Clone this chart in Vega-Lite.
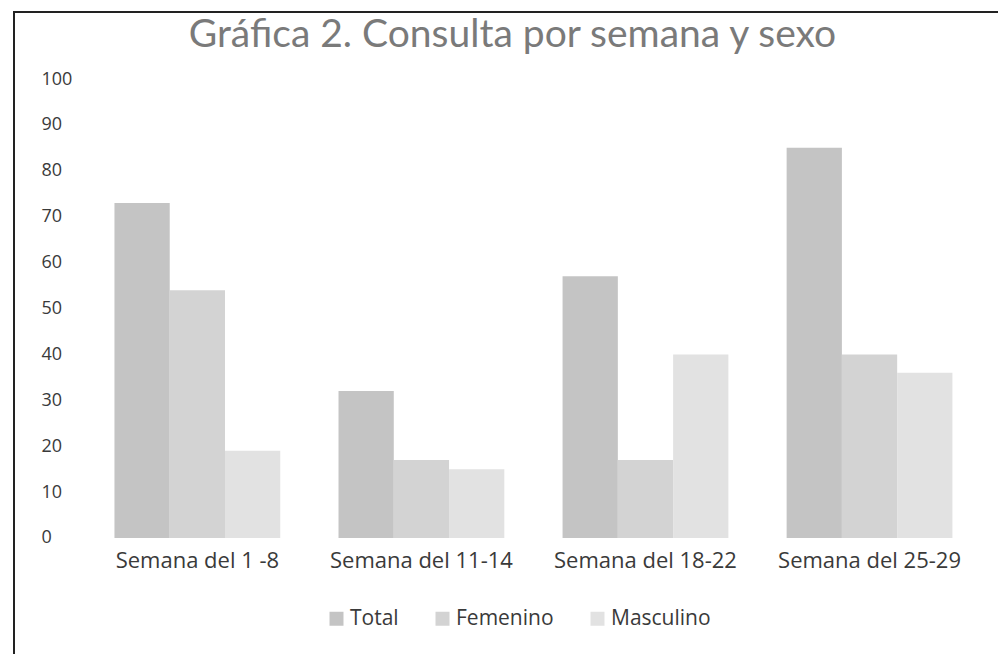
{
  "$schema": "https://vega.github.io/schema/vega-lite/v6.json",
  "autosize": "none",
  "padding": {"left": 14, "top": 12, "right": 0, "bottom": 0},
  "width": 1000,
  "height": 649,
  "background": "white",
  "config": {
    "view": {"stroke": "#222222", "strokeWidth": 2},
    "axis": {"grid": false, "domain": false, "ticks": false, "labelFont": "Open Sans", "labelColor": "#3a3a3a"}
  },
  "data": {
    "values": [
      {"semana": "Semana del 1 -8", "sexo": "Total", "valor": 73},
      {"semana": "Semana del 1 -8", "sexo": "Femenino", "valor": 54},
      {"semana": "Semana del 1 -8", "sexo": "Masculino", "valor": 19},
      {"semana": "Semana del 11-14", "sexo": "Total", "valor": 32},
      {"semana": "Semana del 11-14", "sexo": "Femenino", "valor": 17},
      {"semana": "Semana del 11-14", "sexo": "Masculino", "valor": 15},
      {"semana": "Semana del 18-22", "sexo": "Total", "valor": 57},
      {"semana": "Semana del 18-22", "sexo": "Femenino", "valor": 17},
      {"semana": "Semana del 18-22", "sexo": "Masculino", "valor": 40},
      {"semana": "Semana del 25-29", "sexo": "Total", "valor": 85},
      {"semana": "Semana del 25-29", "sexo": "Femenino", "valor": 40},
      {"semana": "Semana del 25-29", "sexo": "Masculino", "valor": 36}
    ]
  },
  "mark": {"type": "bar"},
  "encoding": {
    "x": {
      "field": "semana",
      "type": "nominal",
      "sort": ["Semana del 1 -8", "Semana del 11-14", "Semana del 18-22", "Semana del 25-29"],
      "scale": {"paddingInner": 0.26, "paddingOuter": 0.3616, "align": 0.62},
      "axis": {"title": null, "orient": "bottom", "offset": -123, "labelAngle": 0, "labelFontSize": 22, "labelPadding": 12, "labelLimit": 0}
    },
    "xOffset": {
      "field": "sexo",
      "type": "nominal",
      "sort": ["Total", "Femenino", "Masculino"],
      "scale": {"paddingInner": 0, "paddingOuter": 0}
    },
    "y": {
      "field": "valor",
      "type": "quantitative",
      "scale": {"domain": [-26.8, 114.6], "nice": false, "zero": false},
      "axis": {
        "title": "Gráfica 2. Consulta por semana y sexo",
        "titleAngle": 0,
        "titleX": 471,
        "titleY": 34,
        "titleAlign": "center",
        "titleBaseline": "alphabetic",
        "titleFont": "Lato",
        "titleFontSize": 39,
        "titleFontWeight": "normal",
        "titleColor": "#7a7a7a",
        "titleLimit": 0,
        "values": [0, 10, 20, 30, 40, 50, 60, 70, 80, 90, 100],
        "offset": -27,
        "labelPadding": 0,
        "labelAlign": "left",
        "labelFontSize": 18
      }
    },
    "color": {
      "field": "sexo",
      "type": "nominal",
      "sort": ["Total", "Femenino", "Masculino"],
      "scale": {"domain": ["Total", "Femenino", "Masculino"], "range": ["#c4c4c4", "#d3d3d3", "#e2e2e2"]},
      "legend": {
        "title": null,
        "orient": "none",
        "legendX": 312,
        "legendY": 596,
        "direction": "horizontal",
        "columnPadding": 33,
        "symbolType": "square",
        "symbolSize": 196,
        "symbolStrokeWidth": 0,
        "labelFont": "Open Sans",
        "labelFontSize": 21,
        "labelColor": "#3a3a3a",
        "labelOffset": 3
      }
    }
  }
}
